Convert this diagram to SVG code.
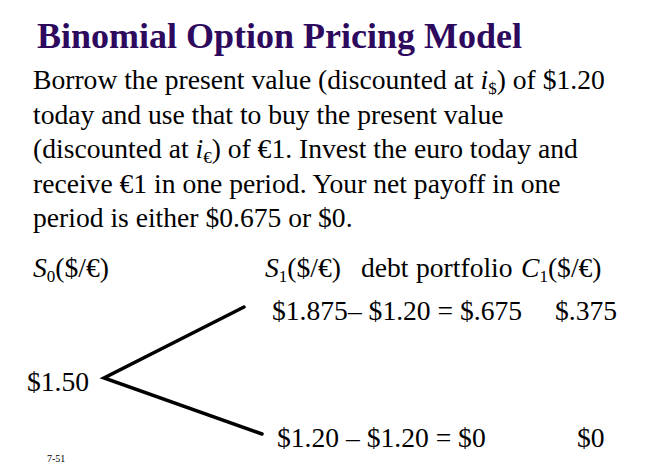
<svg xmlns="http://www.w3.org/2000/svg" width="648" height="468" viewBox="0 0 648 468">
<style>
.t{font-family:"Liberation Serif","Times New Roman",serif;fill:#000}
.b{font-size:27.6px}
.title{font-family:"Liberation Serif","Times New Roman",serif;font-size:36px;font-weight:bold;fill:#2e0a5e}
.sub{font-size:17px}
.i{font-style:italic}
.ln{stroke:#000;stroke-width:3.5;fill:none;stroke-linecap:round;stroke-linejoin:miter}
</style>
<rect width="648" height="468" fill="#fff"/>
<g id="title"><text class="title" x="37" y="48">Binomial Option Pricing Model</text></g>
<g id="paragraph">
<text class="t b" x="33" y="89">Borrow the present value (discounted at <tspan class="i">i</tspan><tspan class="sub" dy="5">$</tspan><tspan dy="-5">) of $1.20</tspan></text>
<text class="t b" x="33" y="124">today and use that to buy the present value</text>
<text class="t b" x="33" y="158">(discounted at <tspan class="i">i</tspan><tspan class="sub" dy="5">€</tspan><tspan dy="-5">) of €1. Invest the euro today and</tspan></text>
<text class="t b" x="33" y="193">receive €1 in one period. Your net payoff in one</text>
<text class="t b" x="33" y="227">period is either $0.675 or $0.</text>
</g>
<g id="header-s0"><text class="t b" x="33" y="277"><tspan class="i">S</tspan><tspan class="sub" dy="5">0</tspan><tspan dy="-5">($/€)</tspan></text></g>
<g id="header-s1">
<text class="t b" x="265" y="277"><tspan class="i">S</tspan><tspan class="sub" dy="5">1</tspan><tspan dy="-5">($/€)</tspan></text>
<text class="t b" x="361" y="277">debt</text>
<text class="t b" x="416" y="277">portfolio</text>
<text class="t b" x="521" y="277"><tspan class="i">C</tspan><tspan class="sub" dy="5">1</tspan><tspan dy="-5">($/€)</tspan></text>
</g>
<g id="node-up"><text class="t b" x="272" y="320">$1.875– $1.20 = $.675</text><text class="t b" x="555" y="320">$.375</text></g>
<g id="node-root"><text class="t b" x="27" y="391">$1.50</text></g>
<g id="node-down"><text class="t b" x="277" y="447">$1.20 – $1.20 = $0</text><text class="t b" x="577" y="447">$0</text></g>
<g id="connectors">
<polyline class="ln" points="244,307 104,378 262,434"/>
</g>
<g id="footer"><text class="t" x="47" y="462" font-size="10">7-51</text></g>
</svg>
